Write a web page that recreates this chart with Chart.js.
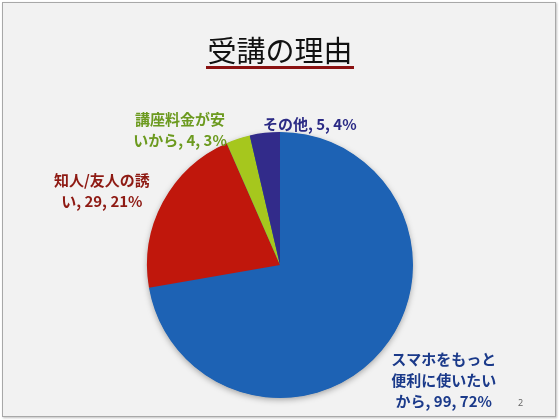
<!DOCTYPE html>
<html>
<head>
<meta charset="utf-8">
<script src="https://cdn.jsdelivr.net/npm/chart.js@4.4.0/dist/chart.umd.min.js"></script>
<style>
  html, body { margin: 0; padding: 0; background: #ffffff; }
  #slide {
    position: absolute; left: 2px; top: 2px; width: 552px; height: 413px;
    background: #f2f2f2; border: 1px solid #a8a8a8;
    box-shadow: 1px 1px 2px rgba(0,0,0,0.25);
  }
  #title {
    position: absolute; left: 0; top: 32px; width: 560px; text-align: center;
    font-family: "Noto Sans CJK JP", sans-serif; font-size: 29px; line-height: 34px; color: #111;
  }
  #title span { display: inline-block; border-bottom: 3px solid #8a1212; padding: 0 1px 0 1px; line-height: 34px; }
  #page { position: absolute; left: 518px; top: 396px; font-family: "Noto Sans", sans-serif; font-size: 9px; color: #666; }
  #wrap { position: absolute; left: 0; top: 0; width: 560px; height: 420px; }
</style>
</head>
<body>
<div id="slide"></div>
<div id="wrap"><canvas id="pie-chart"></canvas></div>
<div id="title"><span>受講の理由</span></div>
<div id="page">2</div>
<script>

var categories = ["スマホをもっと便利に使いたいから", "知人/友人の誘い", "講座料金が安いから", "その他"];
var counts = [99, 29, 4, 5];
var sliceColors = ["#1d62b4", "#c0170c", "#a6c71d", "#322b8a"];
var labelColors = ["#1b3a8a", "#8e1a13", "#6c9a1f", "#2b2a85"];

// wrap width (chars) and offset from the slice's outer edge, per label
var labelSetup = [
	{ wrap: 7, dx: 62, dy: 9 },
	{ wrap: 7, dx: -61, dy: -22 },
	{ wrap: 6, dx: -58, dy: -19 },
	{ wrap: 99, dx: 45, dy: -9 }
];

function getTotal(){
	var t = 0;
	for (var i = 0; i < counts.length; i++) t += counts[i];
	return t;
}

function getLabelLines(i){
	var pct = Math.round(counts[i] / getTotal() * 100);
	var cat = categories[i];
	var n = labelSetup[i].wrap;
	var lines = [];
	for (var k = 0; k < cat.length; k += n) lines.push(cat.substr(k, n));
	lines[lines.length - 1] += ", " + counts[i] + ", " + pct + "%";
	return lines;
}

var pieShadow = {
	id: 'pieShadow',
	beforeDatasetsDraw: function(chart){
		var arc = chart.getDatasetMeta(0).data[0];
		if (!arc) return;
		var ctx = chart.ctx;
		ctx.save();
		ctx.shadowColor = "rgba(0,0,0,0.35)";
		ctx.shadowBlur = 6;
		ctx.shadowOffsetY = 2;
		ctx.fillStyle = "#1d62b4";
		ctx.beginPath();
		ctx.arc(arc.x, arc.y, arc.outerRadius - 0.5, 0, Math.PI * 2);
		ctx.fill();
		ctx.restore();
	}
};

var sliceLabels = {
	id: 'sliceLabels',
	afterDatasetsDraw: function(chart){
		var ctx = chart.ctx;
		var meta = chart.getDatasetMeta(0);
		ctx.save();
		ctx.font = "bold 15px 'Noto Sans CJK JP', sans-serif";
		ctx.textAlign = "center";
		ctx.textBaseline = "middle";
		for (var i = 0; i < meta.data.length; i++) {
			var p = meta.data[i].getProps(['x', 'y', 'startAngle', 'endAngle', 'outerRadius'], true);
			var mid = (p.startAngle + p.endAngle) / 2;
			var ax = p.x + Math.cos(mid) * p.outerRadius;
			var ay = p.y + Math.sin(mid) * p.outerRadius;
			var lines = getLabelLines(i);
			ctx.fillStyle = labelColors[i];
			for (var j = 0; j < lines.length; j++) {
				ctx.fillText(lines[j], ax + labelSetup[i].dx, ay + labelSetup[i].dy + j * 21);
			}
		}
		ctx.restore();
	}
};

var ctx = document.getElementById("pie-chart");
var myPieChart = new Chart(ctx, {
	type: 'pie',
	data: {
		labels: categories,
		datasets: [{
			data: counts,
			backgroundColor: sliceColors,
			borderWidth: 0
		}]
	},
	options: {
		responsive: true,
		maintainAspectRatio: false,
		animation: false,
		layout: { padding: { top: 132, bottom: 22, left: 147, right: 147 } },
		plugins: {
			legend: { display: false },
			tooltip: { enabled: false }
		}
	},
	plugins: [pieShadow, sliceLabels]
});

</script>
</body>
</html>
